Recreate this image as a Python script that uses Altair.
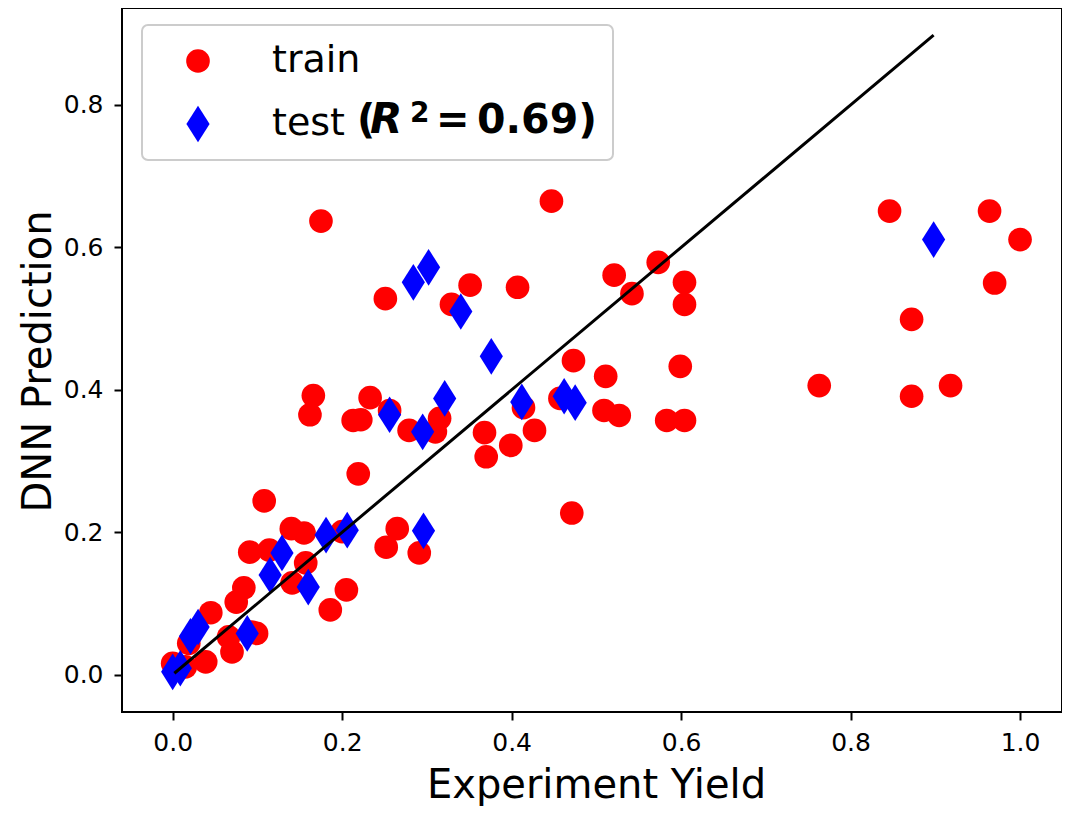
import altair as alt
import pandas as pd

# ---- data ----
train_x = [0.175, 0.447, 0.251, 0.351, 0.329, 0.407, 0.521, 0.573, 0.542, 0.604,
           0.604, 0.846, 0.964, 1.000, 0.970, 0.872, 0.763, 0.872, 0.918,
           0.473, 0.511, 0.599, 0.166, 0.162, 0.233, 0.213, 0.222, 0.256, 0.315,
           0.279, 0.310, 0.368, 0.370, 0.399, 0.427, 0.414, 0.457, 0.509, 0.527,
           0.583, 0.604, 0.219, 0.471,
           0.108, 0.140, 0.155, 0.200, 0.252, 0.265, 0.291, 0.091, 0.114, 0.157,
           0.141, 0.084, 0.075, 0.205, 0.186, 0.045, 0.019, 0.093, 0.099, 0.066,
           0.070, 0.039, 0.000, 0.015]
train_y = [0.637, 0.665, 0.528, 0.547, 0.520, 0.544, 0.561, 0.579, 0.535, 0.551,
           0.520, 0.651, 0.651, 0.611, 0.550, 0.499, 0.406, 0.391, 0.406,
           0.441, 0.419, 0.433, 0.392, 0.365, 0.389, 0.357, 0.358, 0.371, 0.360,
           0.343, 0.341, 0.340, 0.306, 0.322, 0.343, 0.375, 0.388, 0.371, 0.364,
           0.357, 0.357, 0.282, 0.227,
           0.244, 0.205, 0.199, 0.201, 0.179, 0.205, 0.171, 0.172, 0.175, 0.157,
           0.129, 0.122, 0.102, 0.119, 0.091, 0.087, 0.044, 0.060, 0.058, 0.053,
           0.032, 0.018, 0.016, 0.011]

test_x = [0.284, 0.302, 0.340, 0.376, 0.256, 0.321, 0.295, 0.412, 0.462, 0.475,
          0.898, 0.206, 0.296, 0.181, 0.129, 0.115, 0.160, 0.021, 0.030, 0.088,
          0.009, 0.000]
test_y = [0.551, 0.572, 0.510, 0.447, 0.365, 0.388, 0.341, 0.383, 0.391, 0.382,
          0.611, 0.203, 0.202, 0.196, 0.171, 0.140, 0.123, 0.054, 0.067, 0.058,
          0.009, 0.004]

line_x = [0.002, 0.898]
line_y = [0.002, 0.898]

x_ticks = [0.0, 0.2, 0.4, 0.6, 0.8, 1.0]
y_ticks = [0.0, 0.2, 0.4, 0.6, 0.8]

groups = ["train", "test"]
colors = ["#ff0000", "#0000ff"]

df = pd.DataFrame({
    "x": train_x + test_x,
    "y": train_y + test_y,
    "set": ["train"] * len(train_x) + ["test"] * len(test_x),
})
line_df = pd.DataFrame({"x": line_x, "y": line_y})

FONT = "DejaVu Sans"
DIAMOND = "M0,-1.55L0.98,0L0,1.55L-0.98,0Z"
PAD = "\u2800" * 9
SIZE = 560

xscale = alt.Scale(domain=[-0.0598, 1.0495], nice=False, zero=False)
yscale = alt.Scale(domain=[-0.0524, 0.9362], nice=False, zero=False)

x_axis = alt.Axis(values=x_ticks, format=".1f", title="Experiment Yield", grid=False,
                  domain=False, labelFont=FONT, labelFontSize=25, labelColor="black",
                  labelPadding=10, labelFlush=False, tickSize=8, tickWidth=2,
                  tickColor="black", titleFont=FONT, titleFontSize=40,
                  titleFontWeight="normal", titleColor="black",
                  titleBaseline="alphabetic", titleY=85, titleX=474)
y_axis = alt.Axis(values=y_ticks, format=".1f", title="DNN Prediction", grid=False,
                  domain=False, labelFont=FONT, labelFontSize=25, labelColor="black",
                  labelPadding=11, labelFlush=False, tickSize=8, tickWidth=2,
                  tickColor="black", titleFont=FONT, titleFontSize=40,
                  titleFontWeight="normal", titleColor="black", titleAngle=270,
                  titleBaseline="alphabetic", titleAlign="center", titleX=-72, titleY=353)

legend = alt.Legend(
    orient="none", legendX=20, legendY=17, title=None,
    labelFont=FONT, labelFontSize=38, labelColor="black", labelLimit=800,
    labelOffset=55, symbolOffset=20, symbolSize=SIZE, symbolStrokeWidth=0,
    padding=17, rowPadding=25, strokeColor="#cccccc", cornerRadius=6,
    labelExpr="datum.label == 'test' ? 'test" + PAD + "' : datum.label",
)

points = alt.Chart(df).mark_point(filled=True, size=SIZE, opacity=1, strokeWidth=0).encode(
    x=alt.X("x:Q", scale=xscale, axis=x_axis),
    y=alt.Y("y:Q", scale=yscale, axis=y_axis),
    color=alt.Color("set:N", scale=alt.Scale(domain=groups, range=colors), legend=legend),
    shape=alt.Shape("set:N", scale=alt.Scale(domain=groups, range=["circle", DIAMOND]),
                    legend=legend),
)

line = alt.Chart(line_df).mark_line(color="black", strokeWidth=3).encode(
    x=alt.X("x:Q", scale=xscale), y=alt.Y("y:Q", scale=yscale)
)

one = alt.Data(values=[{"k": 0}])
pieces = [
    ("(", 235, 124.7, 40, "normal"),
    ("R", 248, 124.7, 42, "italic"),
    ("2", 288, 114, 28, "normal"),
    ("=", 314, 124.7, 40, "normal"),
    ("0.69)", 355, 124.7, 41, "normal"),
]
texts = [
    alt.Chart(one).mark_text(text=t, font=FONT, fontSize=fs, fontWeight="bold",
                             fontStyle=st, align="left", baseline="alphabetic",
                             color="black").encode(x=alt.value(px), y=alt.value(py))
    for (t, px, py, fs, st) in pieces
]

chart = alt.layer(points, line, *texts).properties(
    width=940, height=704,
    autosize=alt.AutoSizeParams(type="none"),
    padding={"left": 114, "top": 0, "right": 0, "bottom": 94},
).configure_view(stroke="black", strokeWidth=2).configure_legend(strokeWidth=2)

chart.save("out.html", embed_options={"renderer": "svg", "actions": False})
